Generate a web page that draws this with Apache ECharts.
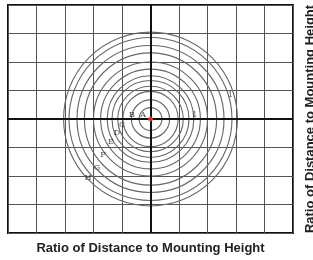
<!DOCTYPE html>
<html>
<head>
<meta charset="utf-8">
<script src="https://cdn.jsdelivr.net/npm/echarts@6/dist/echarts.min.js"></script>
<style>
  html, body { margin: 0; padding: 0; background: #fff; }
  #chart { width: 313px; height: 260px; }
</style>
</head>
<body>
<div id="chart"></div>
<script>
// isolux rings, radius in units of mounting height
const ringRadii = [0.4, 0.67, 0.97, 1.15, 1.35, 1.52, 1.75, 2.0, 2.32, 2.58, 2.86, 3.05];

// ring letters and where they sit
const ringLabels = ["A", "B", "C", "D", "E", "F", "G", "H", "1", "1"];
const labelX = [-0.26, -0.65, -1.0, -1.18, -1.39, -1.67, -1.88, -2.19, 1.55, 2.8];
const labelY = [0.14, 0.14, -0.21, -0.49, -0.81, -1.26, -1.72, -2.07, 0.15, 0.85];

const axisName = "Ratio of Distance to Mounting Height";

const chart = echarts.init(document.getElementById("chart"));

const nameStyle = {
  color: "#222",
  fontSize: 13,
  fontWeight: "bold",
  fontFamily: "Liberation Sans",
};

chart.setOption({
  backgroundColor: "#fff",
  animation: false,
  grid: {
    left: 8,
    right: 20,
    top: 5,
    bottom: 27,
    outerBoundsMode: "none",
    containLabel: false,
    show: true,
    borderColor: "#111",
    borderWidth: 2,
  },
  xAxis: {
    type: "value",
    min: -5,
    max: 5,
    interval: 1,
    name: axisName,
    nameLocation: "middle",
    nameGap: 9,
    nameTextStyle: nameStyle,
    axisLine: { show: false },
    axisTick: { show: false },
    axisLabel: { show: false },
    splitLine: { lineStyle: { color: "#555", width: 1 } },
  },
  yAxis: {
    type: "value",
    position: "right",
    min: -4,
    max: 4,
    interval: 1,
    name: axisName,
    nameLocation: "middle",
    nameRotate: 90,
    nameGap: 11,
    nameTextStyle: nameStyle,
    axisLine: { show: false },
    axisTick: { show: false },
    axisLabel: { show: false },
    splitLine: { lineStyle: { color: "#555", width: 1 } },
  },
  series: [
    {
      type: "custom",
      data: ringRadii.map((r) => [r]),
      renderItem: (params, api) => {
        const c = api.coord([0, 0]);
        const s = api.size([api.value(0), api.value(0)]);
        return {
          type: "circle",
          shape: { cx: c[0], cy: c[1], r: s[0] },
          style: { fill: "none", stroke: "#666", lineWidth: 1.1 },
        };
      },
      markLine: {
        silent: true,
        symbol: "none",
        label: { show: false },
        lineStyle: { color: "#111", width: 2, type: "solid" },
        data: [{ xAxis: 0 }, { yAxis: 0 }],
      },
      z: 3,
    },
    {
      type: "scatter",
      data: ringLabels.map((t, i) => ({ name: t, value: [labelX[i], labelY[i]] })),
      symbolSize: 0,
      label: {
        show: true,
        formatter: "{b}",
        position: "inside",
        color: "#222",
        fontSize: 8,
        fontFamily: "DejaVu Serif",
      },
      z: 4,
    },
    {
      type: "scatter",
      data: [[0, 0]],
      symbolSize: 5,
      itemStyle: { color: "#f04040" },
      z: 5,
    },
  ],
});
</script>
</body>
</html>
